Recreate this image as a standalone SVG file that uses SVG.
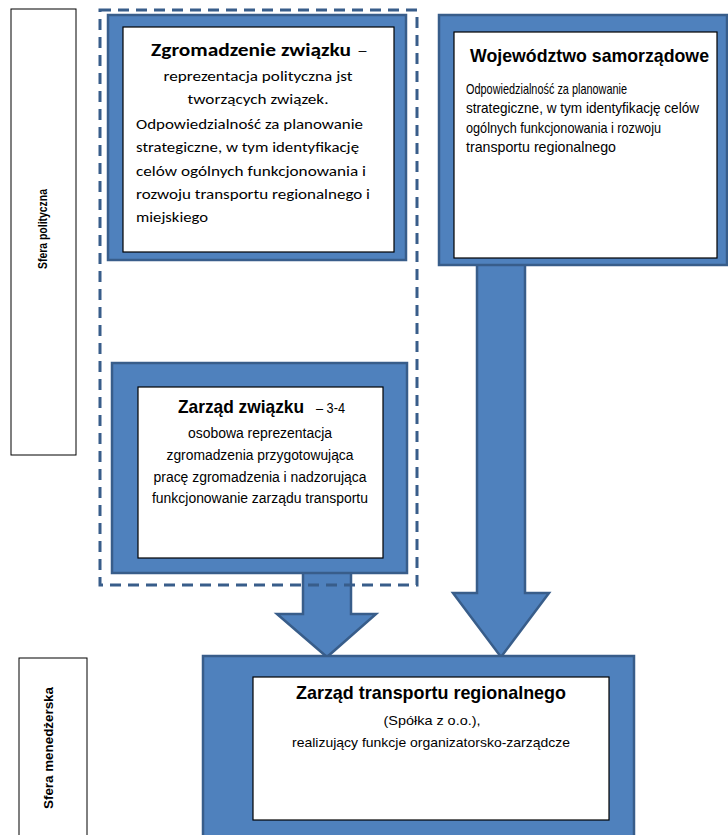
<svg xmlns="http://www.w3.org/2000/svg" width="728" height="835" viewBox="0 0 728 835">
<style>
.frame{fill:#4F81BD;stroke:#385D8A;stroke-width:2.5}
.inner{fill:#FFFFFF;stroke:#000000;stroke-width:1.2}
.label{fill:#FFFFFF;stroke:#000000;stroke-width:1}
.arrow{fill:#4F81BD;stroke:#385D8A;stroke-width:2.5;stroke-linejoin:miter}
.dash{fill:none;stroke:#385D8A;stroke-width:3;stroke-dasharray:11 7}
.ar{font-family:"Liberation Sans",Arial,sans-serif;fill:#000}
.cal{font-family:Carlito,Calibri,"Liberation Sans",sans-serif;fill:#000}
.b{font-weight:bold}
.mid{text-anchor:middle}
</style>
<rect width="728" height="835" fill="#FFFFFF"/>

<g id="label-polityczna">
<rect class="label" x="11" y="9" width="65" height="446"/>
<text class="ar b mid" font-size="13.5" transform="translate(47,229) rotate(-90)" textLength="80" lengthAdjust="spacingAndGlyphs">Sfera polityczna</text>
</g>

<g id="label-menedzerska">
<rect class="label" x="19" y="658" width="68" height="180"/>
<text class="ar b mid" font-size="12.5" transform="translate(53,748) rotate(-90)" textLength="122" lengthAdjust="spacingAndGlyphs">Sfera menedżerska</text>
</g>

<g id="connectors">
<polygon class="arrow" points="477,264 525,264 525,593 549,593 501,657 453,593 477,593"/>
<polygon class="arrow" points="303,570 351,570 351,614 376,614 327,657 277,614 303,614"/>
</g>

<g id="zgromadzenie">
<rect class="frame" x="108" y="15" width="298" height="245"/>
<rect class="inner" x="123" y="27" width="271" height="225"/>
<text class="cal" y="56"><tspan class="b" font-size="19" x="151" textLength="200" lengthAdjust="spacingAndGlyphs">Zgromadzenie związku</tspan><tspan font-size="15" x="357" textLength="11" lengthAdjust="spacingAndGlyphs">–</tspan></text>
<text class="cal mid" font-size="15" x="258" y="81" textLength="189" lengthAdjust="spacingAndGlyphs">reprezentacja polityczna jst</text>
<text class="cal mid" font-size="15" x="258" y="104" textLength="141" lengthAdjust="spacingAndGlyphs">tworzących związek.</text>
<text class="cal" font-size="15" x="136" y="129" textLength="227" lengthAdjust="spacingAndGlyphs">Odpowiedzialność za planowanie</text>
<text class="cal" font-size="15" x="136" y="152" textLength="223" lengthAdjust="spacingAndGlyphs">strategiczne, w tym identyfikację</text>
<text class="cal" font-size="15" x="136" y="176" textLength="230" lengthAdjust="spacingAndGlyphs">celów ogólnych funkcjonowania i</text>
<text class="cal" font-size="15" x="136" y="199" textLength="234" lengthAdjust="spacingAndGlyphs">rozwoju transportu regionalnego i</text>
<text class="cal" font-size="15" x="136" y="222" textLength="72" lengthAdjust="spacingAndGlyphs">miejskiego</text>
</g>

<g id="wojewodztwo">
<rect class="frame" x="439" y="15" width="288" height="250"/>
<rect class="inner" x="454" y="32" width="263" height="226"/>
<text class="ar b" font-size="18.5" x="470" y="62" textLength="239" lengthAdjust="spacingAndGlyphs">Województwo samorządowe</text>
<text class="ar" font-size="14.5" x="466" y="94" textLength="161" lengthAdjust="spacingAndGlyphs">Odpowiedzialność za planowanie</text>
<text class="ar" font-size="14.5" x="466" y="113" textLength="233" lengthAdjust="spacingAndGlyphs">strategiczne, w tym identyfikację celów</text>
<text class="ar" font-size="14.5" x="466" y="133" textLength="195" lengthAdjust="spacingAndGlyphs">ogólnych funkcjonowania i rozwoju</text>
<text class="ar" font-size="14.5" x="466" y="152" textLength="150" lengthAdjust="spacingAndGlyphs">transportu regionalnego</text>
</g>

<g id="zarzad-zwiazku">
<rect class="frame" x="112" y="363" width="295" height="210"/>
<rect class="inner" x="138" y="387" width="245" height="171"/>
<text class="ar" y="413"><tspan class="b" font-size="19" x="178" textLength="126" lengthAdjust="spacingAndGlyphs">Zarząd związku</tspan><tspan font-size="14" x="316" textLength="29" lengthAdjust="spacingAndGlyphs">– 3-4</tspan></text>
<text class="ar mid" font-size="14" x="260" y="438" textLength="144" lengthAdjust="spacingAndGlyphs">osobowa reprezentacja</text>
<text class="ar mid" font-size="14" x="260" y="460" textLength="187" lengthAdjust="spacingAndGlyphs">zgromadzenia przygotowująca</text>
<text class="ar mid" font-size="14" x="260" y="482" textLength="213" lengthAdjust="spacingAndGlyphs">pracę zgromadzenia i nadzorująca</text>
<text class="ar mid" font-size="14" x="260" y="503" textLength="216" lengthAdjust="spacingAndGlyphs">funkcjonowanie zarządu transportu</text>
</g>

<rect id="container-zwiazek" class="dash" x="100" y="10" width="317" height="575"/>

<g id="zarzad-transportu">
<rect class="frame" x="203" y="656" width="431" height="185"/>
<rect class="inner" x="253" y="677" width="356" height="143"/>
<text class="ar b mid" font-size="19" x="431" y="699" textLength="270" lengthAdjust="spacingAndGlyphs">Zarząd transportu regionalnego</text>
<text class="ar mid" font-size="13" x="432" y="725" textLength="97" lengthAdjust="spacingAndGlyphs">(Spółka z o.o.),</text>
<text class="ar mid" font-size="13" x="431" y="747" textLength="278" lengthAdjust="spacingAndGlyphs">realizujący funkcje organizatorsko-zarządcze</text>
</g>
</svg>
